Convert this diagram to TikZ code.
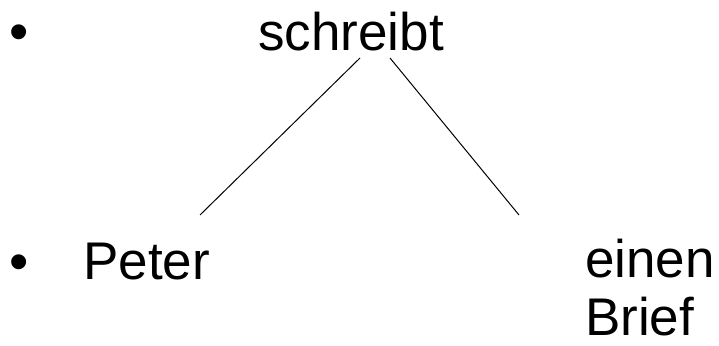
\documentclass[tikz,border=0pt]{standalone}
\usepackage{fontspec}
\setmainfont{Liberation Sans}
\begin{document}
\begin{tikzpicture}[x=1pt,y=-1pt,
  word/.style={anchor=base west,inner sep=0pt,font=\fontsize{53}{58}\selectfont,align=left},
  bul/.style={anchor=base west,inner sep=0pt,font=\fontsize{55}{58}\selectfont},
  edge/.style={draw=black,line width=1pt}]
\useasboundingbox[fill=white] (0,0) rectangle (719,345);
\node[bul] (b1) at (9,50) {•};
\node[bul] (b2) at (9,280) {•};
\node[word] (root) at (258,50) {schreibt};
\node[word] (peter) at (83,279) {Peter};
\node[word] (brief) at (585,335) {einen\\Brief};
\coordinate (r1) at (360,58);
\coordinate (r2) at (390,58);
\coordinate (p1) at (200,215);
\coordinate (e1) at (519,215);
\draw[edge] (r1) -- (p1);
\draw[edge] (r2) -- (e1);
\end{tikzpicture}
\end{document}
